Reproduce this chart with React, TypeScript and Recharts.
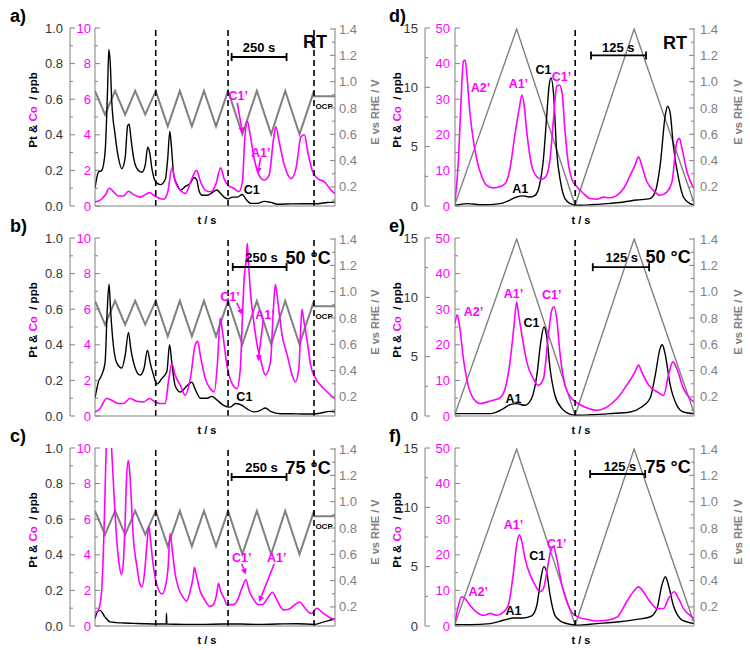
import React from 'react';
import { ComposedChart, Line, XAxis, YAxis, ReferenceLine, ReferenceDot } from 'recharts';

type Pair = number[];

// potential programmes: [t / s, E vs RHE / V]
const potFast: Pair[] = [[0,0.93],[45,0.75],[90,0.93],[135,0.75],[180,0.93],[225,0.75],[272,0.93],[326,0.66],[380,0.93],[434,0.66],[488,0.93],[542,0.66],[596,0.93],[660,0.6],[725,0.93],[789,0.6],[852,0.93],[916,0.6],[981,0.93],[981,0.89],[1075,0.89]];
const potSlow: Pair[] = [[0,0.07],[140,1.4],[273,0.06],[407,1.4],[543,0.08]];

// a) RT, fast cycles: [t, Pt ppb] and [t, Co ppb]
const ptA: Pair[] = [[0,0.1],[15,0.19],[30,0.2],[45,0.3],[56,0.64],[62,0.88],[68,0.81],[75,0.59],[90,0.4],[105,0.27],[120,0.21],[135,0.27],[146,0.45],[153,0.46],[161,0.38],[173,0.27],[188,0.21],[210,0.19],[225,0.23],[236,0.33],[245,0.3],[255,0.21],[270,0.14],[293,0.12],[315,0.15],[326,0.27],[335,0.42],[342,0.34],[353,0.17],[368,0.12],[383,0.09],[405,0.11],[428,0.13],[443,0.16],[455,0.15],[465,0.09],[480,0.06],[503,0.06],[525,0.075],[545,0.09],[563,0.07],[578,0.05],[596,0.04],[615,0.05],[638,0.05],[660,0.065],[675,0.04],[698,0.015],[728,0.015],[758,0.026],[788,0.02],[818,0.01],[878,0.012],[938,0.013],[998,0.013],[1040,0.02],[1075,0.022]];
const coA: Pair[] = [[0,0.23],[22,0.32],[45,0.6],[65,1.0],[83,0.8],[105,0.56],[128,0.56],[150,0.83],[173,0.64],[203,0.5],[225,0.64],[245,0.75],[263,0.6],[285,0.45],[308,0.38],[326,0.8],[345,2.14],[360,1.35],[383,0.88],[405,0.7],[428,1.35],[455,2.0],[473,1.35],[495,0.88],[518,0.8],[540,1.17],[563,2.14],[578,1.54],[596,1.17],[623,0.98],[645,0.8],[660,1.35],[671,3.8],[683,4.74],[695,4.0],[713,2.67],[735,1.73],[758,1.45],[780,1.73],[800,3.8],[810,4.45],[825,3.6],[848,2.3],[878,1.54],[900,2.1],[923,3.9],[938,4.0],[953,3.05],[975,1.92],[998,1.54],[1028,1.35],[1058,0.88],[1075,0.7]];

// b) 50 C, fast cycles
const ptB: Pair[] = [[0,0.1],[15,0.19],[30,0.23],[45,0.3],[55,0.6],[63,0.74],[70,0.59],[82,0.4],[97,0.3],[120,0.27],[135,0.34],[150,0.47],[160,0.38],[180,0.27],[202,0.23],[220,0.27],[235,0.37],[247,0.3],[262,0.23],[277,0.18],[299,0.21],[322,0.25],[334,0.4],[344,0.3],[359,0.17],[382,0.135],[412,0.17],[434,0.19],[449,0.15],[472,0.1],[501,0.1],[524,0.11],[546,0.09],[576,0.06],[606,0.05],[629,0.07],[659,0.06],[681,0.04],[711,0.023],[741,0.032],[763,0.045],[786,0.026],[831,0.013],[876,0.013],[936,0.011],[995,0.013],[1055,0.026],[1075,0.022]];
const coB: Pair[] = [[0,0.23],[22,0.41],[52,0.98],[75,0.88],[105,0.7],[127,0.7],[157,0.98],[187,0.83],[217,0.79],[244,0.98],[269,0.79],[292,0.7],[314,0.7],[329,1.92],[344,2.95],[359,2.3],[382,1.73],[404,1.17],[427,2.1],[449,4.0],[460,4.2],[472,3.4],[494,2.1],[516,1.54],[534,1.35],[549,3.05],[561,5.5],[573,4.55],[591,2.86],[614,1.82],[636,1.54],[651,2.67],[660,5.5],[669,7.9],[678,8.87],[682,9.7],[688,8.5],[696,7.0],[711,5.3],[726,4.0],[744,3.05],[763,2.3],[786,3.05],[799,6.0],[808,7.4],[819,6.43],[838,4.55],[861,3.42],[883,2.3],[898,1.92],[913,2.67],[921,4.8],[927,6.0],[936,5.3],[951,4.17],[966,2.86],[988,2.1],[1010,1.73],[1040,1.35],[1075,0.95]];

// c) 75 C, fast cycles
const ptC: Pair[] = [[0,0.041],[10,0.079],[22,0.088],[45,0.05],[67,0.023],[97,0.019],[127,0.017],[172,0.015],[217,0.013],[277,0.011],[319,0.011],[320,0.07],[322,0.011],[397,0.009],[472,0.009],[576,0.011],[651,0.011],[726,0.009],[816,0.011],[906,0.013],[980,0.009],[1025,0.023],[1075,0.041]];
const coC: Pair[] = [[0,0.75],[10,0.8],[22,1.2],[30,2.0],[37,4.0],[43,6.5],[50,10],[58,12.5],[68,11],[75,9.8],[85,7.4],[97,4.9],[109,3.4],[119,2.9],[127,3.6],[134,5.5],[142,8.5],[149,9.3],[154,8.9],[160,7.7],[172,4.9],[187,3.4],[200,2.4],[210,2.2],[222,3.0],[232,4.5],[241,5.6],[248,4.9],[260,3.5],[275,2.4],[300,1.8],[315,2.2],[328,3.4],[336,5.2],[345,4.4],[358,3.0],[375,2.1],[395,1.6],[410,1.4],[425,1.9],[440,2.8],[445,3.3],[455,2.8],[470,2.0],[490,1.5],[515,1.1],[530,1.2],[545,1.8],[553,2.4],[562,2.0],[580,1.5],[590,1.2],[605,1.2],[620,1.2],[640,1.5],[660,2.2],[676,2.6],[690,2.0],[710,1.5],[733,1.2],[750,1.2],[770,1.5],[795,1.9],[810,1.6],[830,1.1],[848,0.9],[870,0.95],[895,1.2],[918,1.35],[935,1.1],[955,0.8],[972,0.7],[983,0.9],[995,1.0],[1010,0.85],[1030,0.65],[1055,0.45],[1075,0.38]];

// d) RT, slow cycles
const ptD: Pair[] = [[0,0.06],[27,0.2],[64,0.1],[102,0.2],[125,0.5],[140,0.76],[155,0.85],[171,0.76],[182,0.9],[192,1.75],[201,4.0],[208,7.4],[214,10.2],[218,10.8],[224,9.4],[231,4.6],[240,2.0],[250,0.62],[262,0.2],[277,0.06],[307,0.1],[345,0.2],[383,0.34],[413,0.5],[443,0.62],[455,1.2],[466,3.4],[478,7.7],[483,8.4],[489,7.8],[496,5.1],[508,2.3],[519,0.76],[534,0.2],[543,0.1]];
const coD: Pair[] = [[0,1.1],[8,13.3],[13,27.4],[19,40.6],[23,41],[27,36.8],[33,27.4],[40,19.9],[49,13.3],[61,8.2],[72,5.8],[87,5.1],[102,5.4],[114,6.3],[125,10.5],[136,19.9],[146,27.4],[152,31.2],[157,28.4],[163,20.9],[174,11.5],[186,8.2],[197,7.5],[208,8.6],[216,13.3],[224,24.6],[231,33.6],[237,34],[243,32.1],[250,20.9],[258,11.5],[265,7.7],[277,5.4],[292,3.5],[307,2.1],[322,1.9],[337,2.5],[352,2.3],[368,3.0],[383,4.9],[398,8.6],[409,11.5],[417,13.8],[424,11.5],[436,6.8],[451,4.4],[466,3.0],[481,3.9],[493,6.8],[504,18],[510,19],[515,16.6],[527,9.6],[543,4.9]];

// e) 50 C, slow cycles
const ptE: Pair[] = [[0,0.2],[34,0.2],[80,0.2],[110,0.62],[125,0.96],[140,1.04],[159,0.9],[174,1.47],[186,3.44],[195,6.26],[202,7.5],[208,6.8],[216,4.0],[227,1.75],[243,0.62],[258,0.2],[273,0.06],[307,0.1],[352,0.2],[398,0.34],[424,0.76],[443,1.47],[455,3.44],[466,5.7],[471,6.0],[477,5.3],[489,2.6],[504,0.9],[519,0.34],[543,0.2]];
const coE: Pair[] = [[0,26],[5,28.4],[10,25.6],[19,16.2],[30,8.6],[42,4.9],[57,3.5],[72,3.9],[87,4.4],[102,5.1],[114,7.7],[125,15.2],[135,26.5],[140,32.1],[144,28.9],[152,22.7],[163,15.2],[178,10.5],[189,8.6],[201,10.5],[212,22.7],[220,29.8],[225,30.7],[231,27.4],[239,17.1],[250,8.6],[265,4.9],[280,3.5],[299,2.3],[322,1.6],[345,2.5],[368,4.9],[390,8.6],[409,12.4],[417,14.3],[424,12.4],[443,8.2],[459,6.8],[474,5.8],[485,11.5],[495,15.2],[504,13.3],[519,7.7],[534,4.9],[543,3.9]];

// f) 75 C, slow cycles
const ptF: Pair[] = [[0,0.14],[34,0.11],[80,0.2],[110,0.48],[133,0.68],[155,0.68],[174,0.85],[186,1.75],[195,4.0],[202,5.0],[208,4.57],[216,2.6],[227,0.9],[243,0.34],[262,0.14],[277,0.06],[322,0.2],[368,0.34],[413,0.56],[443,0.76],[459,1.47],[470,3.44],[478,4.15],[485,3.44],[496,1.75],[512,0.62],[527,0.34],[543,0.2]];
const coF: Pair[] = [[0,1.1],[8,5.8],[15,8.2],[23,7.7],[34,5.8],[49,3.9],[64,3.0],[80,3.5],[95,3.0],[110,3.9],[121,5.8],[133,15.2],[140,22.7],[146,25.6],[152,23.7],[159,19],[171,14.3],[182,11.5],[193,9.6],[201,10.5],[210,16.2],[217,20.9],[224,22.3],[231,19],[243,11.5],[254,6.8],[265,3.9],[280,2.5],[299,1.9],[322,1.4],[345,1.6],[368,2.5],[390,6.8],[405,9.6],[417,11],[428,9.6],[443,6.8],[459,4.9],[474,4.9],[485,7.7],[498,9.6],[508,7.7],[519,4.9],[534,3.0],[543,2.1]];

// dashed markers and bottom ticks (t / s)
const dashesFast = [272, 596, 981];
const dashesSlow = [273];
const ticksA = [82, 329, 577, 831];
const ticksB = [37, 157, 284, 412, 531, 659, 786, 906, 1033];
const ticksC = [52, 177, 302, 427, 552, 677, 802, 927, 1052];
const ticksD = [129, 383];
const ticksE = [106, 231, 355, 481];
const ticksF = [133, 258, 379, 504];

// axis tick values
const ptTicksFast = [0, 0.1, 0.2, 0.3, 0.4, 0.5, 0.6, 0.7, 0.8, 0.9, 1.0];
const coTicksFast = [0, 1, 2, 3, 4, 5, 6, 7, 8, 9, 10];
const ptTicksSlow = [0, 2.5, 5, 7.5, 10, 12.5, 15];
const coTicksSlow = [0, 5, 10, 15, 20, 25, 30, 35, 40, 45, 50];
const eTicks = [0.1, 0.2, 0.3, 0.4, 0.5, 0.6, 0.7, 0.8, 0.9, 1.0, 1.1, 1.2, 1.3, 1.4];

const MAG = '#ff00ff';
const GREY = '#808080';

type Note = { t: number; y: number; text: string; color?: string; size?: number };
type Arrow = { t1: number; y1: number; t2: number; y2: number; color: string };

const SIDES = {
  L: { width: 385, right: 20, ptW: 70, coW: 25, xMax: 1075, ptMax: 1, coMax: 10,
    ptTicks: ptTicksFast, coTicks: coTicksFast,
    ptMajor: (v: number) => Math.round(v * 10) % 2 === 0, ptFmt: (v: number) => v.toFixed(1),
    coMajor: (v: number) => v % 2 === 0, ptGap: 7, coGap: 4, eGap: 4 },
  R: { width: 375, right: 26, ptW: 50, coW: 30, xMax: 543, ptMax: 15, coMax: 50,
    ptTicks: ptTicksSlow, coTicks: coTicksSlow,
    ptMajor: (v: number) => v % 5 === 0, ptFmt: (v: number) => String(v),
    coMajor: (v: number) => v % 10 === 0, ptGap: 7, coGap: 5, eGap: 6 },
};

const rows = (p: Pair[]) => p.map(([t, v]) => ({ t, v }));

const tickFn = (side: 'left' | 'right', color: string, major: (v: number) => boolean, fmt: (v: number) => string, gap: number) =>
  (props: any) => {
    const { x, y, payload } = props;
    const v = payload.value;
    const big = major(v);
    const ax = side === 'left' ? x + gap : x - gap;
    const dir = side === 'left' ? 1 : -1;
    return (
      <g>
        <line x1={ax} x2={ax + dir * (big ? 5 : 3)} y1={y} y2={y} stroke={GREY} strokeWidth={1} />
        {big && (
          <text x={x} y={y} dy="0.35em" textAnchor={side === 'left' ? 'end' : 'start'} fill={color} fontSize={13}>
            {fmt(v)}
          </text>
        )}
      </g>
    );
  };

const arrowShape = (color: string) => (p: any) => {
  const { x1, y1, x2, y2 } = p;
  const a = Math.atan2(y2 - y1, x2 - x1);
  const h = 6;
  const w = 3;
  const bx = x2 - h * Math.cos(a);
  const by = y2 - h * Math.sin(a);
  const pts = `${x2},${y2} ${bx - w * Math.sin(a)},${by + w * Math.cos(a)} ${bx + w * Math.sin(a)},${by - w * Math.cos(a)}`;
  return (
    <g>
      <line x1={x1} y1={y1} x2={bx} y2={by} stroke={color} strokeWidth={1.6} />
      <polygon points={pts} fill={color} />
    </g>
  );
};

const barShape = (p: any) => {
  const { x1, y1, x2, y2 } = p;
  return (
    <g stroke="#000" strokeWidth={1.8}>
      <line x1={x1} y1={y1} x2={x2} y2={y2} />
      <line x1={x1} y1={y1 - 4} x2={x1} y2={y1 + 4} />
      <line x1={x2} y1={y2 - 4} x2={x2} y2={y2 + 4} />
    </g>
  );
};

const noteShape = (n: Note) => (p: any) => (
  <text x={p.cx} y={p.cy} dy="0.35em" textAnchor="middle" fill={n.color || '#000'} fontSize={n.size || 12.5} fontWeight="bold">
    {n.text}
  </text>
);

interface PanelProps {
  left: number; top: number; side: 'L' | 'R';
  pt: Pair[]; co: Pair[]; pot: Pair[];
  dashes: number[]; xTicks: number[];
  bar: number[]; notes: Note[]; arrows: Arrow[];
}

const Panel: React.FC<PanelProps> = ({ left, top, side, pt, co, pot, dashes, xTicks, bar, notes, arrows }) => {
  const s = SIDES[side];
  return (
    <div style={{ position: 'absolute', left, top }}>
      <ComposedChart width={s.width} height={226} margin={{ top: 28, right: s.right, bottom: 0, left: 0 }}>
        <XAxis dataKey="t" type="number" domain={[0, s.xMax]} ticks={xTicks} allowDataOverflow
          tick={false} tickSize={4} axisLine={{ stroke: GREY }} tickLine={{ stroke: GREY }} height={20} />
        <YAxis yAxisId="co" orientation="left" width={s.coW} domain={[0, s.coMax]} ticks={s.coTicks} interval={0}
          allowDataOverflow axisLine={{ stroke: GREY }} tickLine={false} tickSize={0} tickMargin={s.coGap}
          tick={tickFn('left', MAG, s.coMajor, (v) => String(v), s.coGap)} />
        <YAxis yAxisId="pt" orientation="left" width={s.ptW} domain={[0, s.ptMax]} ticks={s.ptTicks} interval={0}
          allowDataOverflow axisLine={{ stroke: GREY }} tickLine={false} tickSize={0} tickMargin={s.ptGap}
          tick={tickFn('left', '#333', s.ptMajor, s.ptFmt, s.ptGap)} />
        <YAxis yAxisId="e" orientation="right" width={30} domain={[0.055, 1.408]} ticks={eTicks} interval={0}
          allowDataOverflow axisLine={{ stroke: GREY }} tickLine={false} tickSize={0} tickMargin={s.eGap}
          tick={tickFn('right', GREY, (v) => Math.round(v * 10) % 2 === 0, (v) => v.toFixed(1), s.eGap)} />
        <Line yAxisId="e" data={rows(pot)} dataKey="v" stroke={GREY} strokeWidth={side === 'L' ? 2 : 1.4}
          dot={false} isAnimationActive={false} type="linear" />
        <Line yAxisId="pt" data={rows(pt)} dataKey="v" stroke="#000" strokeWidth={1.4}
          dot={false} isAnimationActive={false} type="monotone" />
        <Line yAxisId="co" data={rows(co)} dataKey="v" stroke={MAG} strokeWidth={1.6}
          dot={false} isAnimationActive={false} type="monotone" />
        {dashes.map((d) => (
          <ReferenceLine key={d} yAxisId="co" x={d} stroke="#000" strokeWidth={1.6} strokeDasharray="6 4" />
        ))}
        <ReferenceLine yAxisId="co" segment={[{ x: bar[0], y: bar[2] }, { x: bar[1], y: bar[2] }]} shape={barShape} />
        {arrows.map((a, i) => (
          <ReferenceLine key={'a' + i} yAxisId="co" segment={[{ x: a.t1, y: a.y1 }, { x: a.t2, y: a.y2 }]} shape={arrowShape(a.color)} />
        ))}
        {notes.map((n, i) => (
          <ReferenceDot key={'n' + i} yAxisId="co" x={n.t} y={n.y} r={0} shape={noteShape(n)} />
        ))}
      </ComposedChart>
    </div>
  );
};

const notesA: Note[] = [
  { t: 985, y: 9.25, text: 'RT', size: 18 },
  { t: 735, y: 8.9, text: '250 s', size: 13 },
  { t: 642, y: 6.2, text: 'C1’', color: MAG },
  { t: 742, y: 3.0, text: 'A1’', color: MAG },
  { t: 702, y: 0.94, text: 'C1' },
  { t: 1026, y: 5.6, text: 'OCP', size: 8 },
];
const notesB: Note[] = [
  { t: 955, y: 8.9, text: '50 °C', size: 18 },
  { t: 746, y: 8.9, text: '250 s', size: 13 },
  { t: 605, y: 6.7, text: 'C1’', color: MAG },
  { t: 761, y: 5.7, text: 'A1’', color: MAG },
  { t: 669, y: 1.07, text: 'C1' },
  { t: 1026, y: 5.6, text: 'OCP', size: 8 },
];
const notesC: Note[] = [
  { t: 955, y: 8.9, text: '75 °C', size: 18 },
  { t: 746, y: 8.9, text: '250 s', size: 13 },
  { t: 657, y: 3.84, text: 'C1’', color: MAG },
  { t: 814, y: 3.84, text: 'A1’', color: MAG },
  { t: 1026, y: 5.6, text: 'OCP', size: 8 },
];
const notesD: Note[] = [
  { t: 500, y: 45.8, text: 'RT', size: 18 },
  { t: 371, y: 44.6, text: '125 s', size: 13 },
  { t: 58, y: 33.3, text: 'A2’', color: MAG },
  { t: 144, y: 34.5, text: 'A1’', color: MAG },
  { t: 201, y: 38.3, text: 'C1' },
  { t: 242, y: 36.4, text: 'C1’', color: MAG },
  { t: 148, y: 4.9, text: 'A1' },
];
const notesE: Note[] = [
  { t: 484, y: 44.8, text: '50 °C', size: 18 },
  { t: 379, y: 44.4, text: '125 s', size: 13 },
  { t: 42, y: 29.3, text: 'A2’', color: MAG },
  { t: 133, y: 34.5, text: 'A1’', color: MAG },
  { t: 174, y: 26.3, text: 'C1' },
  { t: 220, y: 34.2, text: 'C1’', color: MAG },
  { t: 133, y: 4.9, text: 'A1' },
];
const notesF: Note[] = [
  { t: 484, y: 44.8, text: '75 °C', size: 18 },
  { t: 375, y: 44.8, text: '125 s', size: 13 },
  { t: 53, y: 9.6, text: 'A2’', color: MAG },
  { t: 133, y: 28.4, text: 'A1’', color: MAG },
  { t: 187, y: 19.9, text: 'C1' },
  { t: 231, y: 23.2, text: 'C1’', color: MAG },
  { t: 133, y: 4.4, text: 'A1' },
];

const arrowsA: Arrow[] = [
  { t1: 637, y1: 5.8, t2: 661, y2: 4.08, color: MAG },
  { t1: 742, y1: 2.7, t2: 729, y2: 1.82, color: MAG },
];
const arrowsB: Arrow[] = [
  { t1: 635, y1: 6.35, t2: 661, y2: 5.68, color: MAG },
  { t1: 754, y1: 5.4, t2: 731, y2: 3.08, color: MAG },
];
const arrowsC: Arrow[] = [
  { t1: 657, y1: 3.5, t2: 676, y2: 2.9, color: MAG },
  { t1: 803, y1: 3.5, t2: 735, y2: 1.35, color: MAG },
];

const Titles: React.FC = () => {
  const rowTops = [0, 210, 420];
  const lettersL = ['a)', 'b)', 'c)'];
  const lettersR = ['d)', 'e)', 'f)'];
  const ppb = (x: number, y: number) => (
    <text transform={`rotate(-90 ${x} ${y})`} x={x} y={y} dy="0.35em" textAnchor="middle" fontSize={11.5} fontWeight="bold" style={{ whiteSpace: 'pre' }}>
      <tspan fill="#000">{'Pt & '}</tspan>
      <tspan fill={MAG}>Co</tspan>
      <tspan fill="#000">{'  / ppb'}</tspan>
    </text>
  );
  const ev = (x: number, y: number) => (
    <text transform={`rotate(-90 ${x} ${y})`} x={x} y={y} dy="0.35em" textAnchor="middle" fontSize={11} fontWeight="bold" fill={GREY}>
      E vs RHE / V
    </text>
  );
  return (
    <svg width={750} height={650} style={{ position: 'absolute', left: 0, top: 0, pointerEvents: 'none' }}>
      {rowTops.map((r, i) => (
        <g key={i}>
          <text x={10} y={r + 22} fontSize={18} fontWeight="bold">{lettersL[i]}</text>
          <text x={389} y={r + 22} fontSize={18} fontWeight="bold">{lettersR[i]}</text>
          {ppb(33, r + 110)}
          {ppb(397, r + 110)}
          {ev(375, r + 112)}
          {ev(738, r + 112)}
          <text x={207} y={r + 224} textAnchor="middle" fontSize={11} fontWeight="bold">t / s</text>
          <text x={581} y={r + 224} textAnchor="middle" fontSize={11} fontWeight="bold">t / s</text>
        </g>
      ))}
    </svg>
  );
};

export default function App() {
  return (
    <div style={{ position: 'absolute', left: 0, top: 0, width: 750, height: 650, background: '#fff', fontFamily: '"Liberation Sans", Arial, sans-serif', overflow: 'hidden' }}>
      <Panel left={0} top={0} side="L" pt={ptA} co={coA} pot={potFast} dashes={dashesFast} xTicks={ticksA}
        bar={[612, 858, 8.37]} notes={notesA} arrows={arrowsA} />
      <Panel left={0} top={210} side="L" pt={ptB} co={coB} pot={potFast} dashes={dashesFast} xTicks={ticksB}
        bar={[617, 858, 8.37]} notes={notesB} arrows={arrowsB} />
      <Panel left={0} top={420} side="L" pt={ptC} co={coC} pot={potFast} dashes={dashesFast} xTicks={ticksC}
        bar={[612, 858, 8.37]} notes={notesC} arrows={arrowsC} />
      <Panel left={375} top={0} side="R" pt={ptD} co={coD} pot={potSlow} dashes={dashesSlow} xTicks={ticksD}
        bar={[309, 434, 42.3]} notes={notesD} arrows={[]} />
      <Panel left={375} top={210} side="R" pt={ptE} co={coE} pot={potSlow} dashes={dashesSlow} xTicks={ticksE}
        bar={[313, 441, 41.8]} notes={notesE} arrows={[]} />
      <Panel left={375} top={420} side="R" pt={ptF} co={coF} pot={potSlow} dashes={dashesSlow} xTicks={ticksF}
        bar={[307, 432, 42.7]} notes={notesF} arrows={[]} />
      <Titles />
    </div>
  );
}
